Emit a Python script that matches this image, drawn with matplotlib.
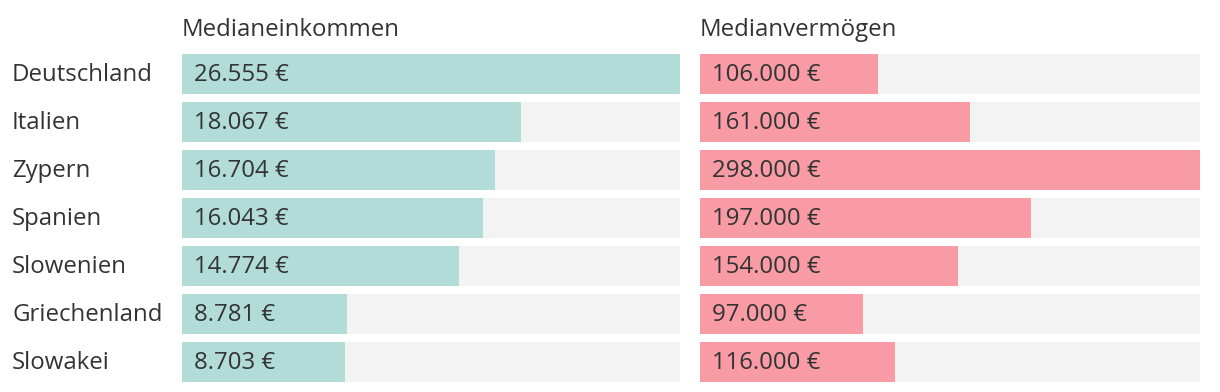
import numpy as np
import matplotlib.pyplot as plt

plt.rcParams['font.family'] = ['Open Sans', 'DejaVu Sans']

laender = ['Deutschland', 'Italien', 'Zypern', 'Spanien', 'Slowenien', 'Griechenland', 'Slowakei']
einkommen = [26555, 18067, 16704, 16043, 14774, 8781, 8703]
vermoegen = [106000, 161000, 298000, 197000, 154000, 97000, 116000]


def fmt(v):
    return f'{v:,}'.replace(',', '.') + ' €'


W, H = 1220, 392
fig = plt.figure(figsize=(W / 100, H / 100), dpi=100)
txt = '#333333'
fs = 17.3

paneles = [
    ('Medianeinkommen', einkommen, '#b2dcd8', 182, 498),
    ('Medianvermögen', vermoegen, '#f89ba5', 700, 500),
]

y = np.arange(len(laender))
for i, (titulo, vals, color, x0, ancho) in enumerate(paneles):
    ax = fig.add_axes([x0 / W, 10 / H, ancho / W, 328 / H])
    vmax = max(vals)
    ax.barh(y, [vmax] * len(y), height=40 / 48, color='#f3f3f3', linewidth=0)
    ax.barh(y, vals, height=40 / 48, color=color, linewidth=0)
    ax.set_xlim(0, vmax)
    ax.set_ylim(len(y) - 1 + 20 / 48, -20 / 48)
    for yi, v in zip(y, vals):
        ax.annotate(fmt(v), (0, yi), xytext=(8.6, -0.8), textcoords='offset points',
                    va='center', ha='left', fontsize=fs, color=txt)
    ax.axis('off')
    ax.annotate(titulo, (0, 1), xycoords='axes fraction', xytext=(0, 8.5),
                textcoords='offset points', va='bottom', ha='left', fontsize=fs, color=txt)
    if i == 0:
        for yi, nombre in zip(y, laender):
            ax.annotate(nombre, (0, yi), xycoords=('axes fraction', 'data'),
                        xytext=(-170 * 0.72, -0.8), textcoords='offset points',
                        va='center', ha='left', fontsize=fs, color=txt)

fig.savefig('out.png', dpi=100, facecolor='white')
